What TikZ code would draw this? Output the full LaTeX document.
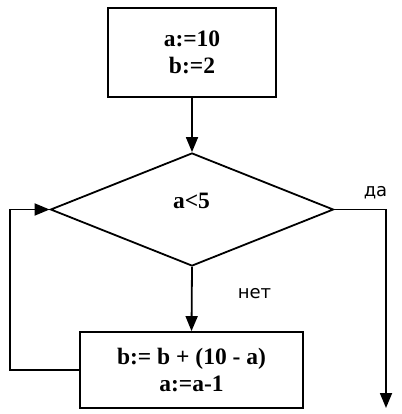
\documentclass[tikz,border=0pt]{standalone}
\usepackage{fontspec}
\setmainfont{Liberation Serif}
\newfontfamily\lblfont{DejaVu Sans}
\usetikzlibrary{shapes.geometric,arrows.meta}
\begin{document}
\begin{tikzpicture}[x=1pt,y=-1pt,
  box/.style={draw,line width=1.8pt,inner sep=0pt,align=center,
    font=\fontsize{23.5}{27.5}\selectfont\bfseries},
  dec/.style={draw,diamond,line width=1.8pt,inner sep=0pt},
  arr/.style={line width=1.8pt,-{Triangle[length=15pt,width=12pt]}},
  lbl/.style={font=\lblfont\fontsize{18}{21}\selectfont,inner sep=0pt}]
\useasboundingbox (0,0) rectangle (401,414);
\node[box,minimum width=168pt,minimum height=89pt] (init) at (192,52.5) {a:=10\\b:=2};
\node[dec,minimum width=283pt,minimum height=113pt,shape aspect=2.5] (cond) at (192,209.5) {};
\node[font=\fontsize{23.5}{27.5}\selectfont\bfseries,inner sep=0pt,anchor=base] (condtxt) at (191.5,208) {a<5};
\node[box,minimum width=223pt,minimum height=76pt] (body) at (191.5,370) {b:= b + (10 - a)\\a:=a-1};
\coordinate (lb) at (10,370);
\coordinate (lt) at (10,209.5);
\coordinate (rt) at (386,209.5);
\coordinate (rend) at (386,408);
\draw[arr] (init.south) -- (cond.north);
\draw[arr] (cond.south) -- (body.north);
\draw[arr] (body.west) -- (lb) -- (lt) -- (cond.west);
\draw[arr] (cond.east) -- (rt) -- (rend);
\node[lbl,anchor=base] (yes) at (375.5,196) {да};
\node[lbl,anchor=base] (no) at (254.5,298) {нет};
\end{tikzpicture}
\end{document}
